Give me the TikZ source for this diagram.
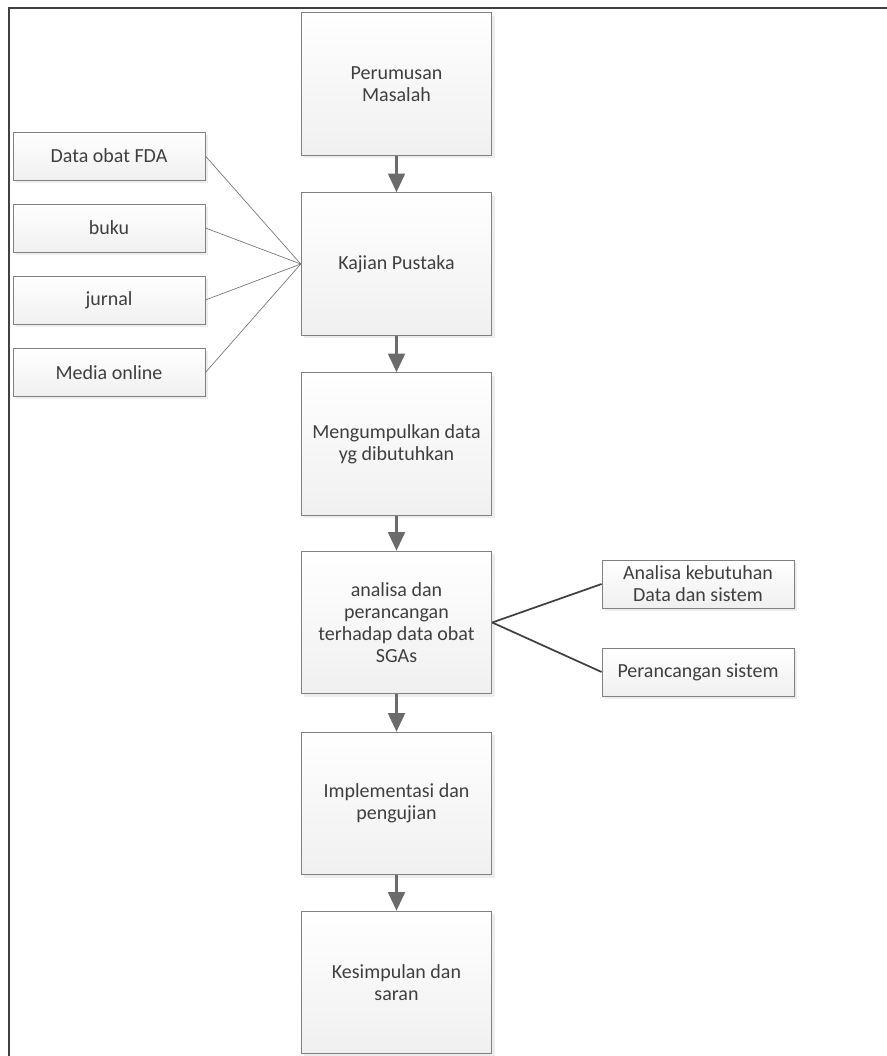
\documentclass[tikz,border=0pt]{standalone}
\usepackage{fontspec}
\setmainfont{Carlito}
\usetikzlibrary{arrows.meta,positioning,shadows}

\definecolor{boxline}{HTML}{808080}
\definecolor{arrowgray}{HTML}{6B6B6B}
\definecolor{textgray}{HTML}{3F3F3F}
\definecolor{framegray}{HTML}{404040}

\begin{document}
\begin{tikzpicture}[x=0.75pt,y=-0.75pt,
    box/.style={draw=boxline,line width=0.6pt,top color=white,bottom color=black!6,
      text=textgray,align=center,inner sep=2pt,font=\fontsize{15}{16.5}\selectfont,
      drop shadow={shadow xshift=2.2pt,shadow yshift=-2.2pt,fill=black,opacity=0.07}},
    stepbox/.style={box,minimum width=143pt,minimum height=107pt},
    srcbox/.style={box,minimum width=144pt,minimum height=36pt},
    flow/.style={-{Triangle[width=12.5pt,length=14pt]},line width=2.2pt,arrowgray},
    feed/.style={draw=black!55,line width=0.5pt},
    split/.style={draw=framegray,line width=1.3pt}]
    \useasboundingbox (0,0) rectangle (887,1056);

    % frame
    \draw[framegray,line width=1.6pt] (9,1070) -- (9,8) -- (900,8);

    % main steps
    \node[stepbox] (rumus) at (396.5,84) {Perumusan\\Masalah};
    \node[stepbox] (kajian) at (396.5,264) {Kajian Pustaka};
    \node[stepbox] (kumpul) at (396.5,444) {Mengumpulkan data\\yg dibutuhkan};
    \node[stepbox] (analisa) at (396.5,622.5) {analisa dan\\perancangan\\terhadap data obat\\SGAs};
    \node[stepbox] (implem) at (396.5,803.5) {Implementasi dan\\pengujian};
    \node[stepbox] (simpul) at (396.5,982.5) {Kesimpulan dan\\saran};

    % sources
    \node[srcbox] (fda) at (109,156) {Data obat FDA};
    \node[srcbox] (buku) at (109,228) {buku};
    \node[srcbox] (jurnal) at (109,300) {jurnal};
    \node[srcbox] (online) at (109,372.5) {Media online};

    % sub steps
    \node[srcbox] (butuh) at (698,584) {Analisa kebutuhan\\Data dan sistem};
    \node[srcbox] (rancang) at (698,672) {Perancangan sistem};

    \draw[flow] (rumus) -- (kajian);
    \draw[flow] (kajian) -- (kumpul);
    \draw[flow] (kumpul) -- (analisa);
    \draw[flow] (analisa) -- (implem);
    \draw[flow] (implem) -- (simpul);

    \foreach \src in {fda,buku,jurnal,online}
        \draw[feed] (\src.east) -- (kajian.west);

    \draw[split] (analisa.east) -- (butuh.west);
    \draw[split] (analisa.east) -- (rancang.west);
\end{tikzpicture}
\end{document}
